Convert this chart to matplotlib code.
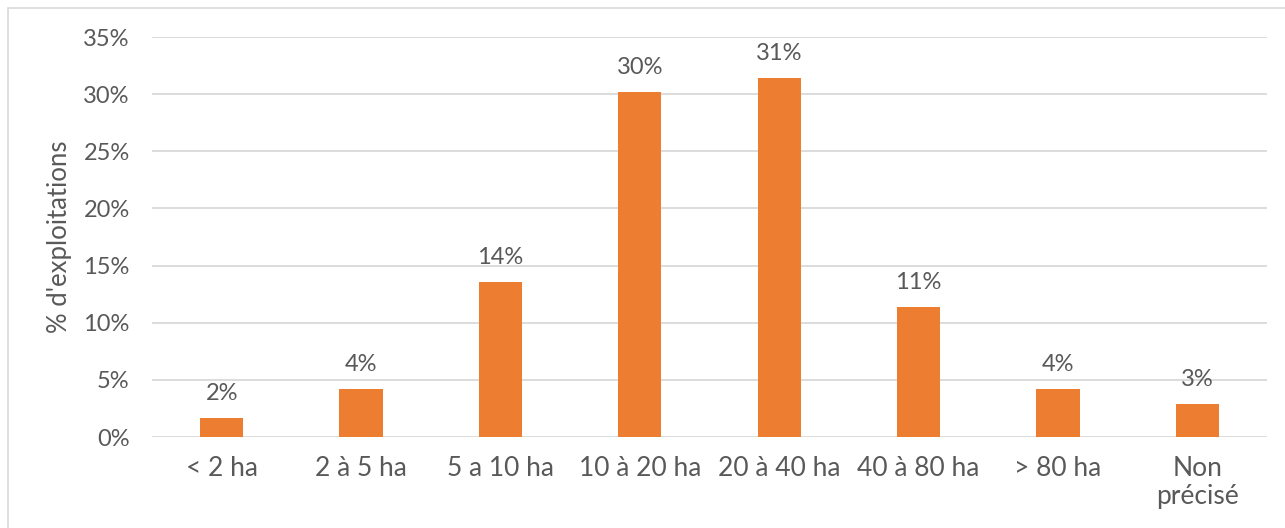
import numpy as np
import matplotlib.pyplot as plt
from matplotlib.patches import Rectangle

categories = ['< 2 ha', '2 à 5 ha', '5 a 10 ha', '10 à 20 ha', '20 à 40 ha',
              '40 à 80 ha', '> 80 ha', 'Non\nprécisé']
values = [1.7, 4.2, 13.6, 30.2, 31.4, 11.4, 4.2, 2.9]
yticks = [0, 5, 10, 15, 20, 25, 30, 35]

W, H = 1285, 528
plt.rcParams['font.family'] = ['Lato', 'DejaVu Sans']
txt = '#595959'

fig = plt.figure(figsize=(W / 100, H / 100), dpi=100)
ax = fig.add_axes([152 / W, 1 - 437 / H, (1267 - 152) / W, (437 - 37) / H])

x = np.arange(len(categories))
ax.bar(x, values, width=0.31, color='#ED7D31', zorder=3)
for xi, v in zip(x, values):
    ax.text(xi, v + 1.2, '%d%%' % round(v), ha='center', va='bottom',
            fontsize=17, color=txt)

ax.set_xlim(-0.5, len(categories) - 0.5)
ax.set_ylim(0, 35)
ax.set_yticks(yticks)
ax.set_yticklabels(['%d%%' % t for t in yticks], fontsize=17, color=txt)
ax.set_xticks(x)
ax.set_xticklabels(categories, fontsize=19, color=txt, linespacing=1.15)
ax.tick_params(axis='both', length=0)
ax.tick_params(axis='x', pad=14)
ax.tick_params(axis='y', pad=16)
ax.grid(axis='y', color='#D9D9D9', linewidth=1.3, zorder=0)
for s in ax.spines.values():
    s.set_visible(False)
ax.set_ylabel("% d'exploitations", fontsize=18.5, color=txt, labelpad=8)

fig.patches.append(Rectangle((8 / W, -0.05), 1.1, 1 - 8 / H + 0.05,
                             transform=fig.transFigure, fill=False,
                             edgecolor='#D9D9D9', linewidth=1.2))

plt.savefig('out.png', dpi=100)
